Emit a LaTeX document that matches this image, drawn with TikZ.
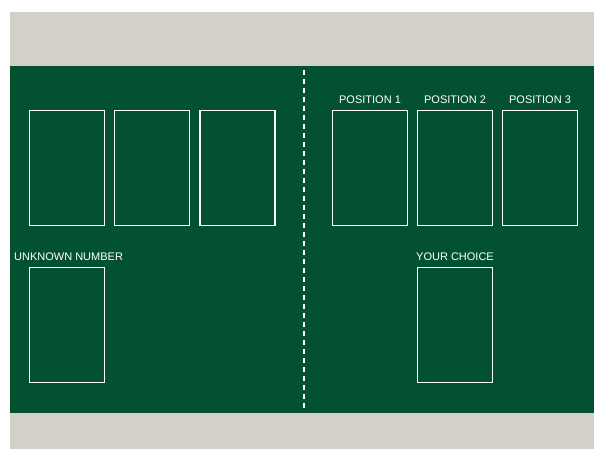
\documentclass[tikz,border=0pt]{standalone}
\usepackage{fontspec}
\setmainfont{Liberation Sans}
\definecolor{felt}{RGB}{2,82,50}
\definecolor{band}{RGB}{211,207,201}
\begin{document}
\begin{tikzpicture}[x=1pt,y=-1pt,
  card/.style={draw=white,line width=1.8pt,minimum width=75pt,minimum height=115pt,inner sep=0pt},
  lbl/.style={text=white,font=\fontsize{11}{12}\selectfont,inner sep=0pt}]
\useasboundingbox (0,0) rectangle (594,449);
\fill[white] (0,0) rectangle (594,449);
\fill[band] (10,12) rectangle (594,449);
\fill[felt] (10,66) rectangle (594,413);
\coordinate (dtop) at (304,70);
\coordinate (dbot) at (304,411);
\draw[white,line width=1.6pt,dash pattern=on 5pt off 4pt] (dtop) -- (dbot);
\node[card] (a1) at (67,168) {};
\node[card] (a2) at (152,168) {};
\node[card] (a3) at (237.5,168) {};
\node[card] (p1) at (370,168) {};
\node[card] (p2) at (455,168) {};
\node[card] (p3) at (540,168) {};
\node[card] (u) at (67,325) {};
\node[card] (c) at (455,325) {};
\node[lbl] (lp1) at (370,99.5) {POSITION 1};
\node[lbl] (lp2) at (455,99.5) {POSITION 2};
\node[lbl] (lp3) at (540,99.5) {POSITION 3};
\node[lbl,anchor=west] (lu) at (14,256.5) {UNKNOWN NUMBER};
\node[lbl] (lc) at (455,256.5) {YOUR CHOICE};
\end{tikzpicture}
\end{document}
